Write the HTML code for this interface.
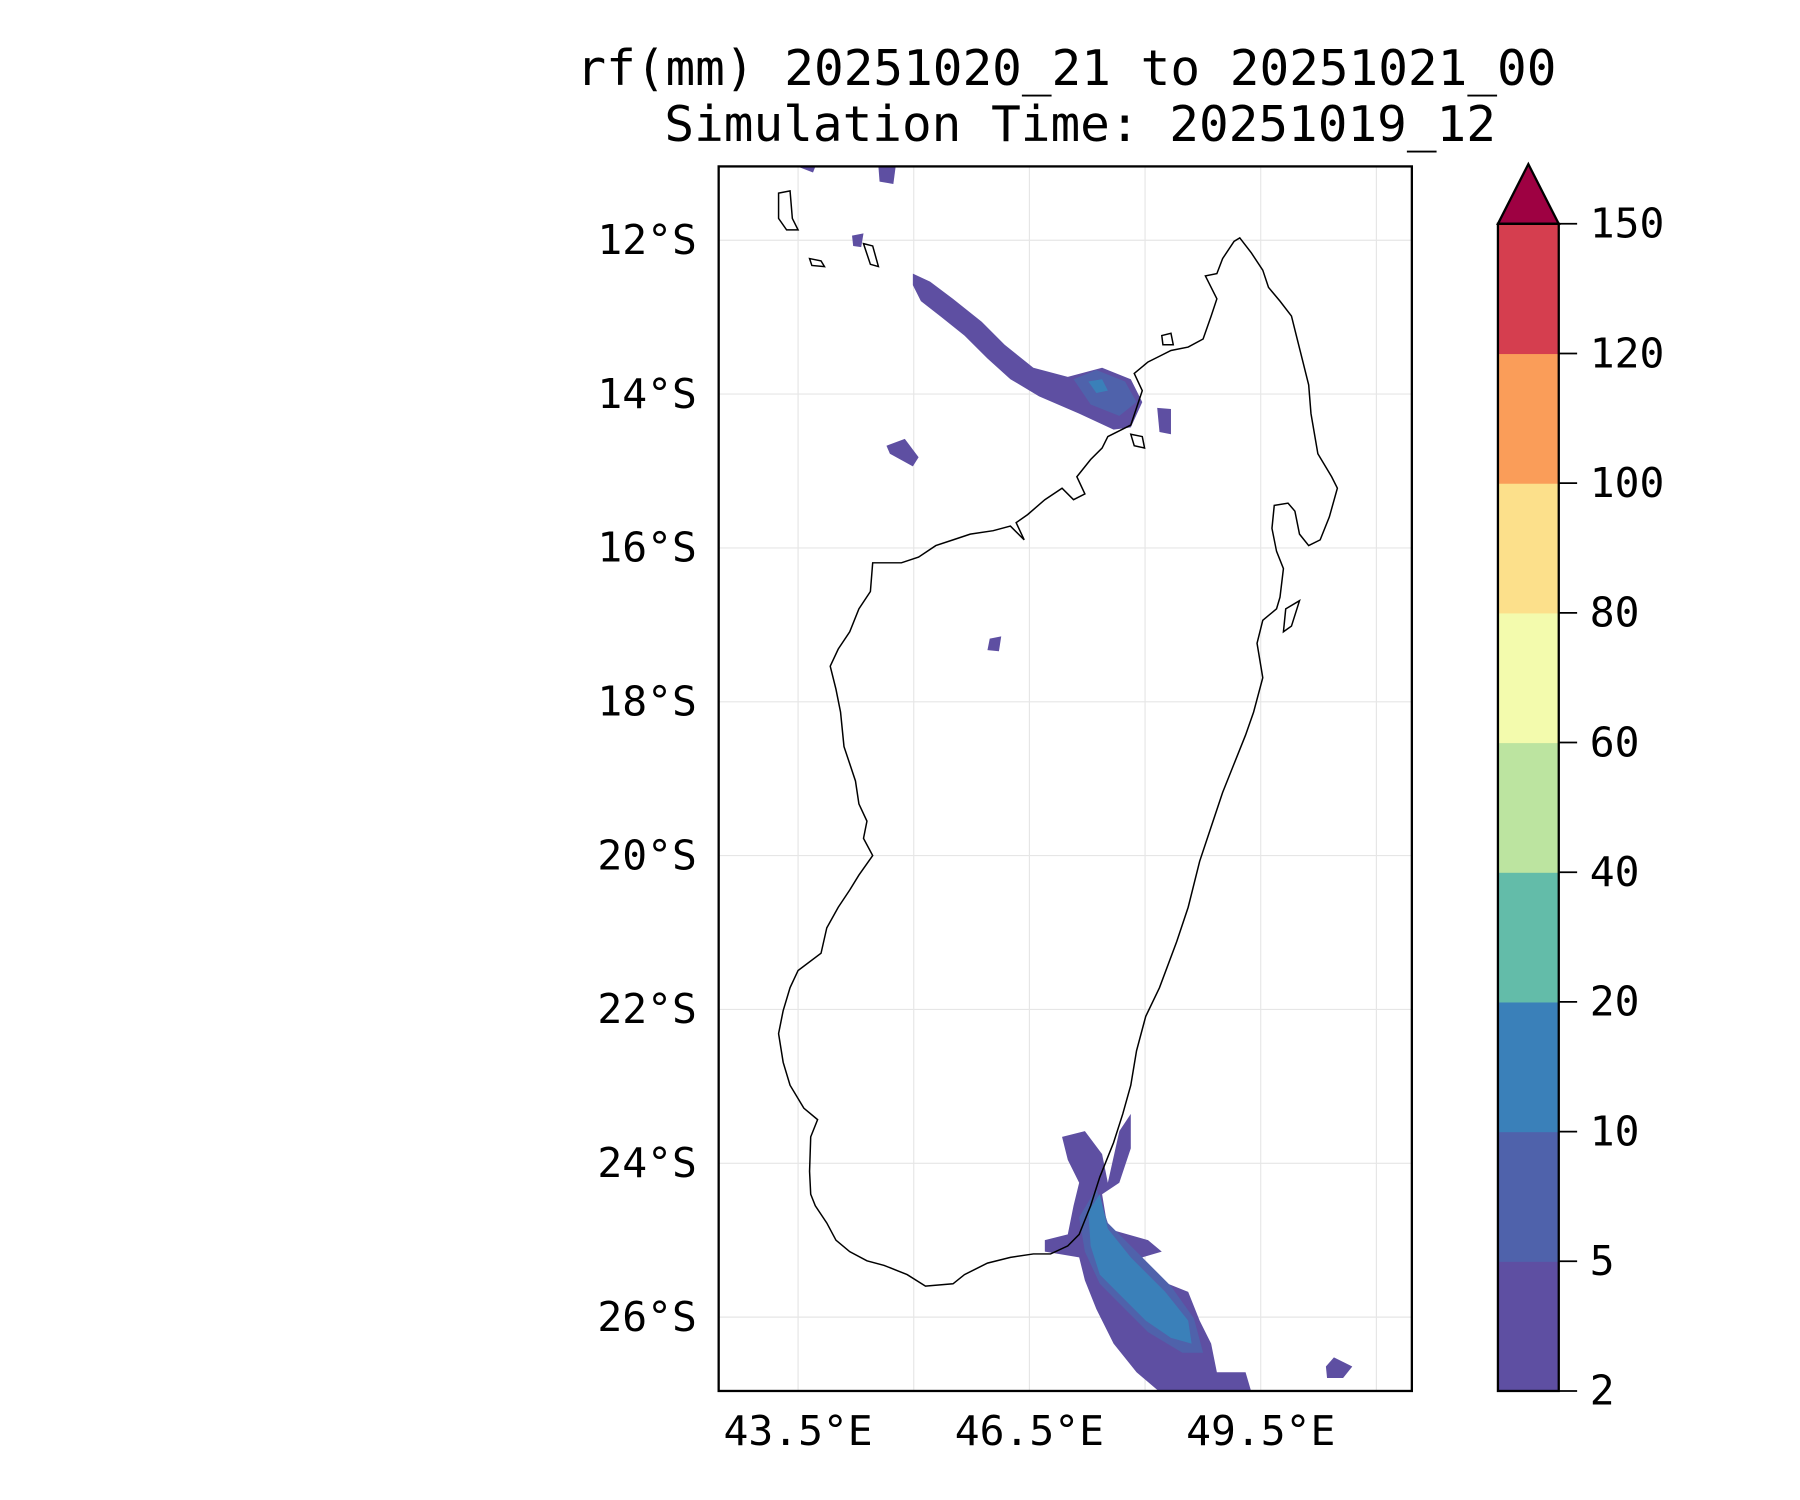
<!DOCTYPE html>
<html><head><meta charset="utf-8"><style>html,body{margin:0;padding:0;background:#fff}svg{display:block}text{font-family:"DejaVu Sans Mono","Liberation Mono",monospace;fill:#000}</style></head>
<body>
<svg id="fig" width="1800" height="1500" viewBox="0 0 1568 1307" xmlns="http://www.w3.org/2000/svg">
<rect width="1568" height="1307" fill="#fff"/>
<text x="929" y="74" font-size="43" text-anchor="middle">rf(mm) 20251020_21 to 20251021_00</text>
<text x="941" y="123" font-size="43" text-anchor="middle">Simulation Time: 20251019_12</text>
<defs><clipPath id="mapclip"><rect x="626" y="145" width="604" height="1067"/></clipPath></defs>
<g id="grid"></g>
<g id="rain" clip-path="url(#mapclip)"></g>
<g id="coast" clip-path="url(#mapclip)"></g>
<rect x="626" y="145" width="604" height="1067" fill="none" stroke="#000" stroke-width="2"/>
<g id="axes"></g>
<g id="cbar"></g>
</svg>
<script>
const lonTicks=[43.5,46.5,49.5];
const latTicks=[12,14,16,18,20,22,24,26];
const gridLons=[43.5,45,46.5,48,49.5,51];
const levels=[2,5,10,20,40,60,80,100,120,150];
const levelColors=['#5e4fa2','#4f62ab','#3a80b9','#63bca9','#bce4a0','#f3fbad','#fce08b','#fa9d59','#d53e4f'];
const extendColor='#9e0142';
const NS='http://www.w3.org/2000/svg';
const lon0=42.47,lon1=51.46,lat0=-11.04,lat1=-26.96;
function X(lon){return 626+(lon-lon0)/(lon1-lon0)*604;}
function Y(lat){return 145+(lat-lat0)/(lat1-lat0)*1067;}
function toLL(p){return [43.5+(p[0]-695)/67.2,-(12+(p[1]-209)/67)];}
function mk(tag,attrs,parent){const e=document.createElementNS(NS,tag);for(const k in attrs)e.setAttribute(k,attrs[k]);parent.appendChild(e);return e;}
function path(pts){return pts.map(toLL).map((q,i)=>(i?'L':'M')+X(q[0]).toFixed(1)+','+Y(q[1]).toFixed(1)).join('')+'Z';}
const grid=document.getElementById('grid');
gridLons.forEach(l=>{const e=mk('line',{x1:X(l),x2:X(l),y1:145,y2:1212,stroke:'#e6e6e6','stroke-width':1},grid);

});
latTicks.forEach(l=>{const e=mk('line',{x1:626,x2:1230,y1:Y(-l),y2:Y(-l),stroke:'#e6e6e6','stroke-width':1},grid);

});
const axes=document.getElementById('axes');
lonTicks.forEach(l=>{const t=mk('text',{x:X(l),y:1259,'font-size':36,'text-anchor':'middle'},axes);t.textContent=l+'°E';

});
latTicks.forEach(l=>{const t=mk('text',{x:607,y:Y(-l)+12,'font-size':36,'text-anchor':'end'},axes);t.textContent=l+'°S';

});
const rain=document.getElementById('rain');
const patches=[
 [0,[[795,238],[810,245],[830,260],[855,280],[875,300],[900,320],[930,328],[960,320],[985,330],[995,350],[985,372],[970,374],[940,360],[905,345],[880,330],[860,312],[840,292],[820,276],[802,262],[795,248]]],
 [1,[[935,330],[955,322],[980,332],[990,350],[975,362],[950,352]]],
 [2,[[948,332],[960,330],[965,340],[955,342]]],
 [0,[[1008,355],[1020,356],[1020,378],[1010,376]]],
 [0,[[772,388],[788,382],[800,398],[795,406],[775,395]]],
 [0,[[862,556],[872,554],[870,567],[860,566]]],
 [0,[[765,145],[780,145],[778,160],[766,158]]],
 [0,[[695,145],[710,145],[708,150]]],
 [0,[[742,205],[752,203],[750,215],[743,214]]],
 [0,[[925,990],[945,985],[960,1005],[965,1030],[975,985],[985,970],[985,1000],[975,1030],[960,1040],[965,1070],[1000,1080],[1012,1090],[995,1095],[1010,1115],[1035,1125],[1045,1150],[1055,1170],[1060,1195],[1085,1195],[1090,1212],[1010,1212],[990,1195],[970,1170],[955,1140],[945,1115],[940,1095],[910,1090],[910,1080],[930,1075],[935,1050],[940,1030],[930,1010]]],
 [1,[[940,1060],[955,1035],[965,1065],[990,1090],[1020,1120],[1040,1148],[1048,1178],[1030,1178],[1000,1160],[980,1140],[958,1118],[945,1090]]],
 [2,[[948,1055],[958,1040],[965,1070],[985,1095],[1015,1125],[1035,1150],[1038,1170],[1020,1165],[998,1150],[978,1130],[958,1110],[950,1085]]],
 [0,[[1155,1190],[1162,1182],[1178,1190],[1170,1200],[1156,1200]]]
];
patches.forEach(p=>{const e=mk('path',{d:path(p[1]),fill:levelColors[p[0]]},rain);

});
const coastG=document.getElementById('coast');
const madagascar=[[1080,207],[1090,220],[1100,235],[1105,250],[1115,262],[1125,275],[1130,295],[1135,315],[1140,335],[1142,360],[1148,395],[1160,415],[1165,425],[1158,450],[1150,470],[1140,475],[1132,465],[1128,445],[1122,438],[1110,440],[1108,460],[1112,480],[1118,495],[1115,520],[1112,530],[1100,540],[1095,560],[1100,590],[1092,620],[1085,640],[1075,665],[1065,690],[1055,720],[1045,750],[1035,790],[1025,820],[1010,860],[998,885],[990,915],[985,945],[978,970],[970,995],[958,1025],[950,1050],[940,1075],[930,1085],[915,1092],[900,1092],[880,1095],[860,1100],[840,1110],[830,1118],[806,1120],[790,1110],[770,1102],[755,1098],[740,1090],[728,1080],[720,1065],[710,1050],[706,1040],[705,1020],[706,990],[712,975],[700,965],[688,945],[682,925],[678,900],[682,880],[688,860],[695,845],[715,830],[720,808],[730,790],[740,775],[748,762],[760,745],[752,730],[755,715],[748,700],[745,680],[740,665],[735,650],[732,620],[728,600],[723,580],[730,565],[740,550],[748,530],[758,515],[760,490],[785,490],[800,485],[815,475],[830,470],[845,465],[865,462],[880,458],[892,470],[885,455],[895,448],[910,435],[925,425],[935,435],[945,430],[938,415],[950,400],[960,390],[965,380],[985,370],[990,355],[995,340],[988,325],[1000,315],[1010,310],[1020,305],[1035,302],[1048,295],[1055,275],[1060,260],[1050,240],[1060,238],[1065,225],[1075,210]];
const islands=[
 [[678,168],[688,166],[690,190],[695,200],[685,200],[678,190]],
 [[705,225],[715,227],[718,232],[707,231]],
 [[752,212],[760,214],[765,232],[758,230]],
 [[1012,292],[1020,290],[1022,300],[1013,300]],
 [[1120,530],[1132,523],[1125,545],[1118,550]],
 [[985,378],[995,380],[997,390],[988,388]]
];
[madagascar].concat(islands).forEach(pts=>{const e=mk('path',{d:path(pts),fill:'none',stroke:'#000','stroke-width':1.3},coastG);

});
const cb=document.getElementById('cbar');
const cx=1305,cw=53,cTop=195,cBot=1212,step=(cBot-cTop)/(levels.length-1);
levelColors.forEach((c,i)=>{const e=mk('rect',{x:cx,y:cBot-(i+1)*step,width:cw,height:step+0.5,fill:c},cb);

});
const tri=mk('polygon',{points:`${cx},${cTop} ${cx+cw/2},143 ${cx+cw},${cTop}`,fill:extendColor,stroke:'#000','stroke-width':2},cb);


const fr=mk('rect',{x:cx,y:cTop,width:cw,height:cBot-cTop,fill:'none',stroke:'#000','stroke-width':2},cb);


levels.forEach((v,i)=>{const y=cBot-i*step;
const tk=mk('line',{x1:cx+cw,x2:cx+cw+16,y1:y,y2:y,stroke:'#000','stroke-width':1.5},cb);


const t=mk('text',{x:1385,y:y+12,'font-size':36},cb);t.textContent=v;

});
</script>
</body></html>
